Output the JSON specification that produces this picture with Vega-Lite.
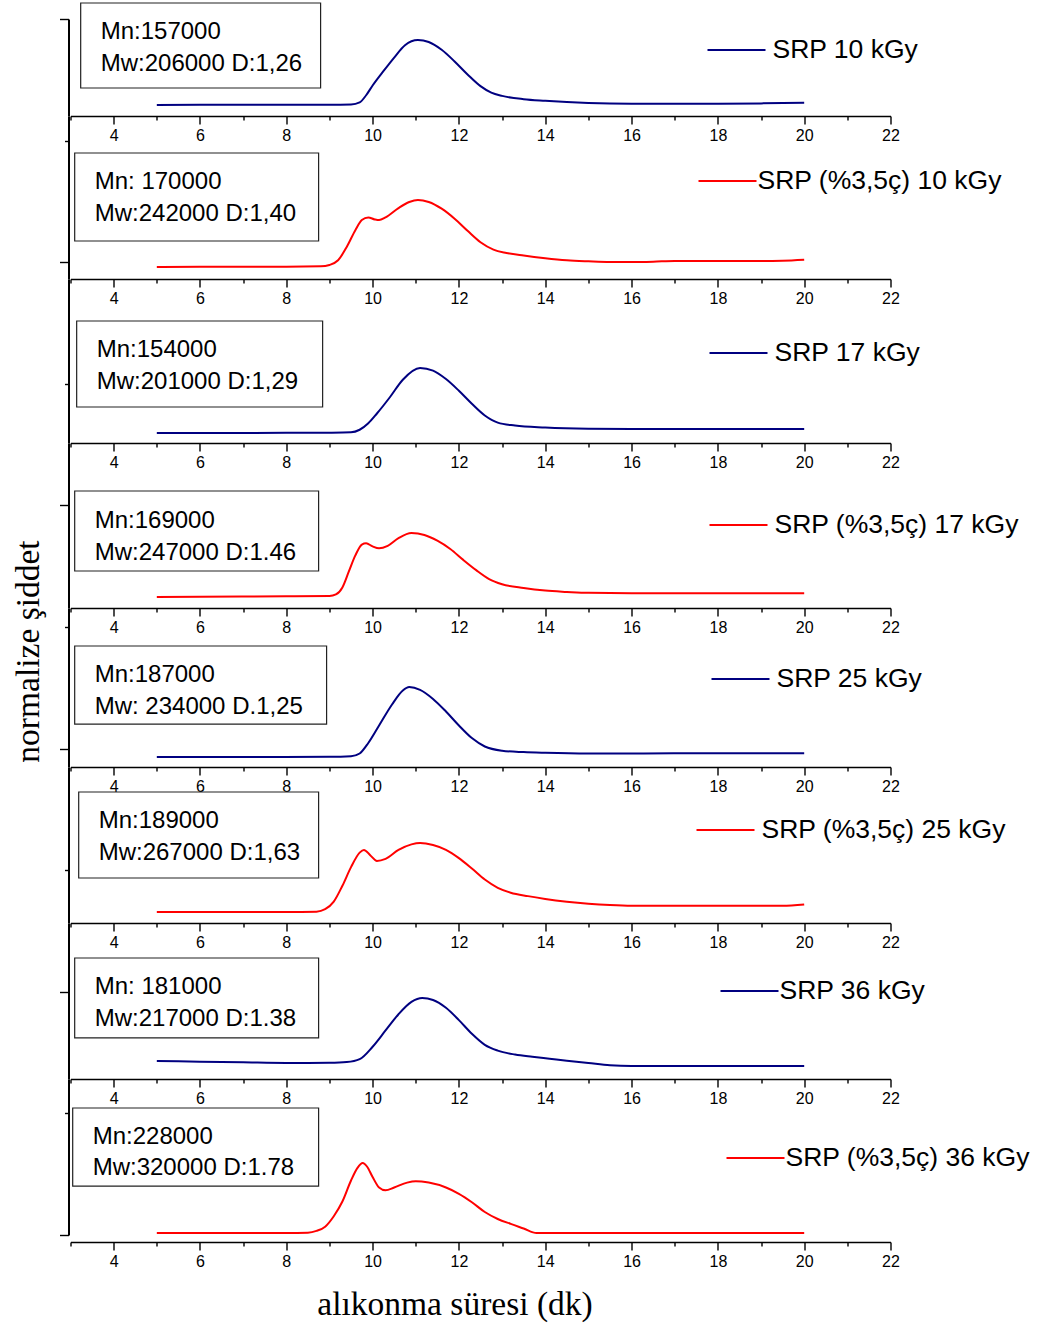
{
  "$schema": "https://vega.github.io/schema/vega-lite/v6.json",
  "padding": {"left": 10.5, "top": 2, "right": 5, "bottom": 5},
  "background": "white",
  "bounds": "flush",
  "spacing": 0,
  "resolve": {"scale": {"color": "independent"}},
  "config": {
    "view": {"stroke": null},
    "axis": {"grid": false, "domainColor": "black", "tickColor": "black", "labelColor": "black", "labelFont": "Liberation Sans"},
    "legend": {"orient": "none", "title": null, "labelFont": "Liberation Sans", "labelFontSize": 26.5, "labelColor": "black", "symbolSize": 3364, "symbolStrokeWidth": 2, "symbolType": "stroke", "padding": 0, "labelLimit": 400}
  },
  "datasets": {
    "panels": [
      {"p": 1, "series": "SRP 10 kGy", "mn": "Mn:157000", "mw": "Mw:206000 D:1,26"},
      {"p": 2, "series": "SRP (%3,5ç) 10 kGy", "mn": "Mn: 170000", "mw": "Mw:242000 D:1,40"},
      {"p": 3, "series": "SRP 17 kGy", "mn": "Mn:154000", "mw": "Mw:201000 D:1,29"},
      {"p": 4, "series": "SRP (%3,5ç) 17 kGy", "mn": "Mn:169000", "mw": "Mw:247000 D:1.46"},
      {"p": 5, "series": "SRP 25 kGy", "mn": "Mn:187000", "mw": "Mw: 234000 D.1,25"},
      {"p": 6, "series": "SRP (%3,5ç) 25 kGy", "mn": "Mn:189000", "mw": "Mw:267000 D:1,63"},
      {"p": 7, "series": "SRP 36 kGy", "mn": "Mn: 181000", "mw": "Mw:217000 D:1.38"},
      {"p": 8, "series": "SRP (%3,5ç) 36 kGy", "mn": "Mn:228000", "mw": "Mw:320000 D:1.78"}
    ],
    "curves": [
      {"p":1,"t":5,"v":0},{"p":1,"t":6,"v":0.003},{"p":1,"t":7,"v":0.005},{"p":1,"t":8,"v":0.003},{"p":1,"t":9,"v":0.003},{"p":1,"t":9.5,"v":0.008},{"p":1,"t":9.7,"v":0.04},{"p":1,"t":9.85,"v":0.15},{"p":1,"t":10,"v":0.3},{"p":1,"t":10.25,"v":0.52},{"p":1,"t":10.5,"v":0.73},{"p":1,"t":10.75,"v":0.92},{"p":1,"t":11.05,"v":1.0},{"p":1,"t":11.3,"v":0.97},{"p":1,"t":11.6,"v":0.85},{"p":1,"t":11.9,"v":0.67},{"p":1,"t":12.2,"v":0.47},{"p":1,"t":12.5,"v":0.29},{"p":1,"t":12.75,"v":0.19},{"p":1,"t":13,"v":0.14},{"p":1,"t":13.5,"v":0.09},{"p":1,"t":14,"v":0.065},{"p":1,"t":14.5,"v":0.045},{"p":1,"t":15,"v":0.03},{"p":1,"t":16,"v":0.018},{"p":1,"t":17,"v":0.018},{"p":1,"t":18,"v":0.02},{"p":1,"t":19,"v":0.025},{"p":1,"t":20,"v":0.035},
      {"p":2,"t":5,"v":0},{"p":2,"t":6,"v":0.002},{"p":2,"t":7,"v":0.005},{"p":2,"t":8,"v":0.005},{"p":2,"t":8.8,"v":0.01},{"p":2,"t":9.0,"v":0.03},{"p":2,"t":9.2,"v":0.1},{"p":2,"t":9.4,"v":0.3},{"p":2,"t":9.6,"v":0.55},{"p":2,"t":9.75,"v":0.7},{"p":2,"t":9.9,"v":0.74},{"p":2,"t":10.05,"v":0.71},{"p":2,"t":10.15,"v":0.7},{"p":2,"t":10.3,"v":0.74},{"p":2,"t":10.6,"v":0.88},{"p":2,"t":10.85,"v":0.97},{"p":2,"t":11.05,"v":1.0},{"p":2,"t":11.3,"v":0.97},{"p":2,"t":11.6,"v":0.87},{"p":2,"t":11.9,"v":0.72},{"p":2,"t":12.2,"v":0.54},{"p":2,"t":12.5,"v":0.37},{"p":2,"t":12.8,"v":0.26},{"p":2,"t":13.1,"v":0.21},{"p":2,"t":13.5,"v":0.17},{"p":2,"t":14,"v":0.13},{"p":2,"t":14.5,"v":0.1},{"p":2,"t":15,"v":0.085},{"p":2,"t":15.5,"v":0.075},{"p":2,"t":16,"v":0.075},{"p":2,"t":16.5,"v":0.08},{"p":2,"t":17,"v":0.09},{"p":2,"t":17.5,"v":0.09},{"p":2,"t":18,"v":0.09},{"p":2,"t":18.5,"v":0.09},{"p":2,"t":19,"v":0.09},{"p":2,"t":19.5,"v":0.095},{"p":2,"t":20,"v":0.11},
      {"p":3,"t":5,"v":0},{"p":3,"t":7,"v":0},{"p":3,"t":8,"v":0.002},{"p":3,"t":9,"v":0.005},{"p":3,"t":9.5,"v":0.01},{"p":3,"t":9.7,"v":0.05},{"p":3,"t":9.9,"v":0.15},{"p":3,"t":10.1,"v":0.3},{"p":3,"t":10.4,"v":0.55},{"p":3,"t":10.7,"v":0.82},{"p":3,"t":11.1,"v":1.0},{"p":3,"t":11.4,"v":0.96},{"p":3,"t":11.7,"v":0.83},{"p":3,"t":12,"v":0.65},{"p":3,"t":12.3,"v":0.45},{"p":3,"t":12.6,"v":0.27},{"p":3,"t":12.9,"v":0.16},{"p":3,"t":13.3,"v":0.115},{"p":3,"t":14,"v":0.085},{"p":3,"t":15,"v":0.065},{"p":3,"t":16,"v":0.06},{"p":3,"t":18,"v":0.06},{"p":3,"t":20,"v":0.06},
      {"p":4,"t":5,"v":0},{"p":4,"t":6,"v":0.005},{"p":4,"t":7,"v":0.008},{"p":4,"t":8,"v":0.01},{"p":4,"t":9,"v":0.015},{"p":4,"t":9.15,"v":0.04},{"p":4,"t":9.3,"v":0.15},{"p":4,"t":9.45,"v":0.4},{"p":4,"t":9.6,"v":0.65},{"p":4,"t":9.75,"v":0.82},{"p":4,"t":9.85,"v":0.84},{"p":4,"t":10.0,"v":0.79},{"p":4,"t":10.15,"v":0.76},{"p":4,"t":10.35,"v":0.8},{"p":4,"t":10.6,"v":0.92},{"p":4,"t":10.9,"v":1.0},{"p":4,"t":11.2,"v":0.97},{"p":4,"t":11.5,"v":0.88},{"p":4,"t":11.8,"v":0.75},{"p":4,"t":12.1,"v":0.58},{"p":4,"t":12.4,"v":0.42},{"p":4,"t":12.7,"v":0.28},{"p":4,"t":13,"v":0.2},{"p":4,"t":13.5,"v":0.14},{"p":4,"t":14,"v":0.1},{"p":4,"t":14.5,"v":0.08},{"p":4,"t":15,"v":0.065},{"p":4,"t":16,"v":0.06},{"p":4,"t":17,"v":0.06},{"p":4,"t":18,"v":0.06},{"p":4,"t":19,"v":0.06},{"p":4,"t":20,"v":0.06},
      {"p":5,"t":5,"v":0},{"p":5,"t":7,"v":0},{"p":5,"t":9,"v":0.002},{"p":5,"t":9.5,"v":0.01},{"p":5,"t":9.7,"v":0.05},{"p":5,"t":9.9,"v":0.2},{"p":5,"t":10.15,"v":0.45},{"p":5,"t":10.45,"v":0.75},{"p":5,"t":10.7,"v":0.95},{"p":5,"t":10.85,"v":1.0},{"p":5,"t":11.1,"v":0.96},{"p":5,"t":11.4,"v":0.83},{"p":5,"t":11.7,"v":0.65},{"p":5,"t":12,"v":0.45},{"p":5,"t":12.3,"v":0.27},{"p":5,"t":12.6,"v":0.15},{"p":5,"t":13,"v":0.09},{"p":5,"t":13.5,"v":0.07},{"p":5,"t":14,"v":0.06},{"p":5,"t":15,"v":0.05},{"p":5,"t":16,"v":0.05},{"p":5,"t":18,"v":0.055},{"p":5,"t":20,"v":0.055},
      {"p":6,"t":5,"v":0},{"p":6,"t":6,"v":0},{"p":6,"t":7,"v":0},{"p":6,"t":8,"v":0},{"p":6,"t":8.7,"v":0.005},{"p":6,"t":8.9,"v":0.04},{"p":6,"t":9.1,"v":0.15},{"p":6,"t":9.3,"v":0.38},{"p":6,"t":9.5,"v":0.65},{"p":6,"t":9.7,"v":0.86},{"p":6,"t":9.8,"v":0.9},{"p":6,"t":9.95,"v":0.82},{"p":6,"t":10.1,"v":0.74},{"p":6,"t":10.3,"v":0.77},{"p":6,"t":10.6,"v":0.9},{"p":6,"t":10.9,"v":0.98},{"p":6,"t":11.1,"v":1.0},{"p":6,"t":11.4,"v":0.97},{"p":6,"t":11.7,"v":0.9},{"p":6,"t":12,"v":0.78},{"p":6,"t":12.3,"v":0.63},{"p":6,"t":12.6,"v":0.47},{"p":6,"t":12.9,"v":0.35},{"p":6,"t":13.2,"v":0.28},{"p":6,"t":13.6,"v":0.23},{"p":6,"t":14,"v":0.19},{"p":6,"t":14.5,"v":0.15},{"p":6,"t":15,"v":0.12},{"p":6,"t":15.5,"v":0.1},{"p":6,"t":16,"v":0.09},{"p":6,"t":17,"v":0.09},{"p":6,"t":18,"v":0.09},{"p":6,"t":19,"v":0.09},{"p":6,"t":19.5,"v":0.09},{"p":6,"t":20,"v":0.11},
      {"p":7,"t":5,"v":0.03},{"p":7,"t":6,"v":0.02},{"p":7,"t":7,"v":0.01},{"p":7,"t":8,"v":0},{"p":7,"t":8.5,"v":0},{"p":7,"t":9,"v":0.003},{"p":7,"t":9.4,"v":0.015},{"p":7,"t":9.7,"v":0.06},{"p":7,"t":10,"v":0.25},{"p":7,"t":10.3,"v":0.5},{"p":7,"t":10.6,"v":0.75},{"p":7,"t":10.9,"v":0.94},{"p":7,"t":11.15,"v":1.0},{"p":7,"t":11.4,"v":0.97},{"p":7,"t":11.7,"v":0.85},{"p":7,"t":12,"v":0.66},{"p":7,"t":12.3,"v":0.45},{"p":7,"t":12.6,"v":0.28},{"p":7,"t":12.9,"v":0.19},{"p":7,"t":13.3,"v":0.13},{"p":7,"t":13.7,"v":0.095},{"p":7,"t":14.1,"v":0.065},{"p":7,"t":14.5,"v":0.035},{"p":7,"t":15,"v":0.0},{"p":7,"t":15.5,"v":-0.035},{"p":7,"t":16,"v":-0.045},{"p":7,"t":18,"v":-0.045},{"p":7,"t":20,"v":-0.045},
      {"p":8,"t":5,"v":0},{"p":8,"t":6,"v":0},{"p":8,"t":7,"v":0},{"p":8,"t":8,"v":0},{"p":8,"t":8.5,"v":0.005},{"p":8,"t":8.7,"v":0.03},{"p":8,"t":8.9,"v":0.09},{"p":8,"t":9.1,"v":0.24},{"p":8,"t":9.3,"v":0.45},{"p":8,"t":9.5,"v":0.75},{"p":8,"t":9.65,"v":0.93},{"p":8,"t":9.77,"v":1.0},{"p":8,"t":9.87,"v":0.95},{"p":8,"t":10,"v":0.8},{"p":8,"t":10.15,"v":0.65},{"p":8,"t":10.3,"v":0.61},{"p":8,"t":10.5,"v":0.65},{"p":8,"t":10.8,"v":0.72},{"p":8,"t":11,"v":0.74},{"p":8,"t":11.3,"v":0.72},{"p":8,"t":11.7,"v":0.65},{"p":8,"t":12,"v":0.56},{"p":8,"t":12.3,"v":0.44},{"p":8,"t":12.6,"v":0.3},{"p":8,"t":12.9,"v":0.2},{"p":8,"t":13.2,"v":0.13},{"p":8,"t":13.5,"v":0.065},{"p":8,"t":13.8,"v":0},{"p":8,"t":14.5,"v":0},{"p":8,"t":16,"v":0},{"p":8,"t":18,"v":0},{"p":8,"t":20,"v":0}
    ]
  },
  "vconcat": [
    {
      "width": 820, "height": 97,
      "layer": [
        {"data": {"name": "panels"}, "transform": [{"filter": "datum.p == 1"}], "mark": {"type": "rect", "fill": "white", "stroke": "#222", "strokeWidth": 1.2}, "encoding": {"x": {"datum": 3.236}, "x2": {"datum": 8.795}, "y": {"datum": 1.569}, "y2": {"datum": 0.2615}}},
        {"data": {"name": "panels"}, "transform": [{"filter": "datum.p == 1"}], "mark": {"type": "text", "align": "left", "baseline": "middle", "font": "Liberation Sans", "fontSize": 24, "color": "black"}, "encoding": {"x": {"datum": 3.70}, "y": {"datum": 1.123}, "text": {"field": "mn"}}},
        {"data": {"name": "panels"}, "transform": [{"filter": "datum.p == 1"}], "mark": {"type": "text", "align": "left", "baseline": "middle", "font": "Liberation Sans", "fontSize": 24, "color": "black"}, "encoding": {"x": {"datum": 3.70}, "y": {"datum": 0.631}, "text": {"field": "mw"}}},
        {"data": {"name": "curves"}, "transform": [{"filter": "datum.p == 1"}, {"lookup": "p", "from": {"data": {"name": "panels"}, "key": "p", "fields": ["series"]}}],
         "mark": {"type": "line", "interpolate": "monotone", "strokeWidth": 2},
         "encoding": {
           "x": {"field": "t", "type": "quantitative", "scale": {"domain": [3, 22], "nice": false, "zero": false}, "axis": {"values": [3,4,5,6,7,8,9,10,11,12,13,14,15,16,17,18,19,20,21,22], "labelExpr": "datum.value % 2 == 0 ? datum.label : ''", "tickSize": {"condition": {"test": "datum.value % 2 == 0", "value": 8}, "value": 4}, "title": null, "labelFontSize": 16, "labelPadding": 3, "domainWidth": 1.6, "tickWidth": 1.4, "labelFlush": false, "labelOverlap": false}},
           "y": {"field": "v", "type": "quantitative", "scale": {"domain": [-0.1692, 1.3231], "nice": false, "zero": false}, "axis": {"values": [1.3231], "labels": false, "title": null, "offset": 2, "domainWidth": 2, "tickWidth": 1.4, "tickSize": 9}},
           "color": {"field": "series", "type": "nominal", "scale": {"range": ["#000080"]}, "legend": {"legendX": 636, "legendY": 1, "labelOffset": 6}}
         }}
      ]
    },
    {
      "width": 820, "height": 163,
      "layer": [
        {"data": {"name": "panels"}, "transform": [{"filter": "datum.p == 2"}], "mark": {"type": "rect", "fill": "white", "stroke": "#222", "strokeWidth": 1.2}, "encoding": {"x": {"datum": 3.097}, "x2": {"datum": 8.749}, "y": {"datum": 1.7015}, "y2": {"datum": 0.388}}},
        {"data": {"name": "panels"}, "transform": [{"filter": "datum.p == 2"}], "mark": {"type": "text", "align": "left", "baseline": "middle", "font": "Liberation Sans", "fontSize": 24, "color": "black"}, "encoding": {"x": {"datum": 3.561}, "y": {"datum": 1.2687}, "text": {"field": "mn"}}},
        {"data": {"name": "panels"}, "transform": [{"filter": "datum.p == 2"}], "mark": {"type": "text", "align": "left", "baseline": "middle", "font": "Liberation Sans", "fontSize": 24, "color": "black"}, "encoding": {"x": {"datum": 3.561}, "y": {"datum": 0.791}, "text": {"field": "mw"}}},
        {"data": {"name": "curves"}, "transform": [{"filter": "datum.p == 2"}, {"lookup": "p", "from": {"data": {"name": "panels"}, "key": "p", "fields": ["series"]}}],
         "mark": {"type": "line", "interpolate": "monotone", "strokeWidth": 2},
         "encoding": {
           "x": {"field": "t", "type": "quantitative", "scale": {"domain": [3, 22], "nice": false, "zero": false}, "axis": {"values": [3,4,5,6,7,8,9,10,11,12,13,14,15,16,17,18,19,20,21,22], "labelExpr": "datum.value % 2 == 0 ? datum.label : ''", "tickSize": {"condition": {"test": "datum.value % 2 == 0", "value": 8}, "value": 4}, "title": null, "labelFontSize": 16, "labelPadding": 3, "domainWidth": 1.6, "tickWidth": 1.4, "labelFlush": false, "labelOverlap": false}},
           "y": {"field": "v", "type": "quantitative", "scale": {"domain": [-0.1791, 2.2537], "nice": false, "zero": false}, "axis": {"values": [1.8866, 0.0716], "labels": false, "title": null, "offset": 2, "domainWidth": 2, "tickWidth": 1.4, "tickSize": {"condition": {"test": "datum.value < 1", "value": 9}, "value": 4}}},
           "color": {"field": "series", "type": "nominal", "scale": {"range": ["#ff0000"]}, "legend": {"legendX": 627, "legendY": 35, "labelOffset": 0}}
         }}
      ]
    },
    {
      "width": 820, "height": 164,
      "layer": [
        {"data": {"name": "panels"}, "transform": [{"filter": "datum.p == 3"}], "mark": {"type": "rect", "fill": "white", "stroke": "#222", "strokeWidth": 1.2}, "encoding": {"x": {"datum": 3.143}, "x2": {"datum": 8.842}, "y": {"datum": 1.723}, "y2": {"datum": 0.4}}},
        {"data": {"name": "panels"}, "transform": [{"filter": "datum.p == 3"}], "mark": {"type": "text", "align": "left", "baseline": "middle", "font": "Liberation Sans", "fontSize": 24, "color": "black"}, "encoding": {"x": {"datum": 3.607}, "y": {"datum": 1.277}, "text": {"field": "mn"}}},
        {"data": {"name": "panels"}, "transform": [{"filter": "datum.p == 3"}], "mark": {"type": "text", "align": "left", "baseline": "middle", "font": "Liberation Sans", "fontSize": 24, "color": "black"}, "encoding": {"x": {"datum": 3.607}, "y": {"datum": 0.785}, "text": {"field": "mw"}}},
        {"data": {"name": "curves"}, "transform": [{"filter": "datum.p == 3"}, {"lookup": "p", "from": {"data": {"name": "panels"}, "key": "p", "fields": ["series"]}}],
         "mark": {"type": "line", "interpolate": "monotone", "strokeWidth": 2},
         "encoding": {
           "x": {"field": "t", "type": "quantitative", "scale": {"domain": [3, 22], "nice": false, "zero": false}, "axis": {"values": [3,4,5,6,7,8,9,10,11,12,13,14,15,16,17,18,19,20,21,22], "labelExpr": "datum.value % 2 == 0 ? datum.label : ''", "tickSize": {"condition": {"test": "datum.value % 2 == 0", "value": 8}, "value": 4}, "title": null, "labelFontSize": 16, "labelPadding": 3, "domainWidth": 1.6, "tickWidth": 1.4, "labelFlush": false, "labelOverlap": false}},
           "y": {"field": "v", "type": "quantitative", "scale": {"domain": [-0.1538, 2.3692], "nice": false, "zero": false}, "axis": {"values": [0.757], "labels": false, "title": null, "offset": 2, "domainWidth": 2, "tickWidth": 1.4, "tickSize": 4}},
           "color": {"field": "series", "type": "nominal", "scale": {"range": ["#000080"]}, "legend": {"legendX": 638, "legendY": 44, "labelOffset": 6}}
         }}
      ]
    },
    {
      "width": 820, "height": 165,
      "layer": [
        {"data": {"name": "panels"}, "transform": [{"filter": "datum.p == 4"}], "mark": {"type": "rect", "fill": "white", "stroke": "#222", "strokeWidth": 1.2}, "encoding": {"x": {"datum": 3.097}, "x2": {"datum": 8.749}, "y": {"datum": 1.656}, "y2": {"datum": 0.406}}},
        {"data": {"name": "panels"}, "transform": [{"filter": "datum.p == 4"}], "mark": {"type": "text", "align": "left", "baseline": "middle", "font": "Liberation Sans", "fontSize": 24, "color": "black"}, "encoding": {"x": {"datum": 3.561}, "y": {"datum": 1.1875}, "text": {"field": "mn"}}},
        {"data": {"name": "panels"}, "transform": [{"filter": "datum.p == 4"}], "mark": {"type": "text", "align": "left", "baseline": "middle", "font": "Liberation Sans", "fontSize": 24, "color": "black"}, "encoding": {"x": {"datum": 3.561}, "y": {"datum": 0.6875}, "text": {"field": "mw"}}},
        {"data": {"name": "curves"}, "transform": [{"filter": "datum.p == 4"}, {"lookup": "p", "from": {"data": {"name": "panels"}, "key": "p", "fields": ["series"]}}],
         "mark": {"type": "line", "interpolate": "monotone", "strokeWidth": 2},
         "encoding": {
           "x": {"field": "t", "type": "quantitative", "scale": {"domain": [3, 22], "nice": false, "zero": false}, "axis": {"values": [3,4,5,6,7,8,9,10,11,12,13,14,15,16,17,18,19,20,21,22], "labelExpr": "datum.value % 2 == 0 ? datum.label : ''", "tickSize": {"condition": {"test": "datum.value % 2 == 0", "value": 8}, "value": 4}, "title": null, "labelFontSize": 16, "labelPadding": 3, "domainWidth": 1.6, "tickWidth": 1.4, "labelFlush": false, "labelOverlap": false}},
           "y": {"field": "v", "type": "quantitative", "scale": {"domain": [-0.1719, 2.4062], "nice": false, "zero": false}, "axis": {"values": [1.431], "labels": false, "title": null, "offset": 2, "domainWidth": 2, "tickWidth": 1.4, "tickSize": 9}},
           "color": {"field": "series", "type": "nominal", "scale": {"range": ["#ff0000"]}, "legend": {"legendX": 638, "legendY": 52, "labelOffset": 6}}
         }}
      ]
    },
    {
      "width": 820, "height": 159,
      "layer": [
        {"data": {"name": "panels"}, "transform": [{"filter": "datum.p == 5"}], "mark": {"type": "rect", "fill": "white", "stroke": "#222", "strokeWidth": 1.2}, "encoding": {"x": {"datum": 3.097}, "x2": {"datum": 8.934}, "y": {"datum": 1.586}, "y2": {"datum": 0.471}}},
        {"data": {"name": "panels"}, "transform": [{"filter": "datum.p == 5"}], "mark": {"type": "text", "align": "left", "baseline": "middle", "font": "Liberation Sans", "fontSize": 24, "color": "black"}, "encoding": {"x": {"datum": 3.561}, "y": {"datum": 1.171}, "text": {"field": "mn"}}},
        {"data": {"name": "panels"}, "transform": [{"filter": "datum.p == 5"}], "mark": {"type": "text", "align": "left", "baseline": "middle", "font": "Liberation Sans", "fontSize": 24, "color": "black"}, "encoding": {"x": {"datum": 3.561}, "y": {"datum": 0.714}, "text": {"field": "mw"}}},
        {"data": {"name": "curves"}, "transform": [{"filter": "datum.p == 5"}, {"lookup": "p", "from": {"data": {"name": "panels"}, "key": "p", "fields": ["series"]}}],
         "mark": {"type": "line", "interpolate": "monotone", "strokeWidth": 2},
         "encoding": {
           "x": {"field": "t", "type": "quantitative", "scale": {"domain": [3, 22], "nice": false, "zero": false}, "axis": {"values": [3,4,5,6,7,8,9,10,11,12,13,14,15,16,17,18,19,20,21,22], "labelExpr": "datum.value % 2 == 0 ? datum.label : ''", "tickSize": {"condition": {"test": "datum.value % 2 == 0", "value": 8}, "value": 4}, "title": null, "labelFontSize": 16, "labelPadding": 3, "domainWidth": 1.6, "tickWidth": 1.4, "labelFlush": false, "labelOverlap": false}},
           "y": {"field": "v", "type": "quantitative", "scale": {"domain": [-0.1429, 2.1286], "nice": false, "zero": false}, "axis": {"values": [1.857, 0.12], "labels": false, "offset": 2, "domainWidth": 2, "tickWidth": 1.4, "tickSize": {"condition": {"test": "datum.value < 1", "value": 9}, "value": 4}, "title": "normalize şiddet", "titleFont": "Liberation Serif", "titleFontSize": 33.5, "titleFontWeight": "normal", "titleColor": "black", "titleAngle": 270, "titleBaseline": "alphabetic", "titleAlign": "center", "titleX": -30, "titleY": 43}},
           "color": {"field": "series", "type": "nominal", "scale": {"range": ["#000080"]}, "legend": {"legendX": 640, "legendY": 41, "labelOffset": 6}}
         }}
      ]
    },
    {
      "width": 820, "height": 156,
      "layer": [
        {"data": {"name": "panels"}, "transform": [{"filter": "datum.p == 6"}], "mark": {"type": "rect", "fill": "white", "stroke": "#222", "strokeWidth": 1.2}, "encoding": {"x": {"datum": 3.19}, "x2": {"datum": 8.749}, "y": {"datum": 1.739}, "y2": {"datum": 0.493}}},
        {"data": {"name": "panels"}, "transform": [{"filter": "datum.p == 6"}], "mark": {"type": "text", "align": "left", "baseline": "middle", "font": "Liberation Sans", "fontSize": 24, "color": "black"}, "encoding": {"x": {"datum": 3.653}, "y": {"datum": 1.319}, "text": {"field": "mn"}}},
        {"data": {"name": "panels"}, "transform": [{"filter": "datum.p == 6"}], "mark": {"type": "text", "align": "left", "baseline": "middle", "font": "Liberation Sans", "fontSize": 24, "color": "black"}, "encoding": {"x": {"datum": 3.653}, "y": {"datum": 0.855}, "text": {"field": "mw"}}},
        {"data": {"name": "curves"}, "transform": [{"filter": "datum.p == 6"}, {"lookup": "p", "from": {"data": {"name": "panels"}, "key": "p", "fields": ["series"]}}],
         "mark": {"type": "line", "interpolate": "monotone", "strokeWidth": 2},
         "encoding": {
           "x": {"field": "t", "type": "quantitative", "scale": {"domain": [3, 22], "nice": false, "zero": false}, "axis": {"values": [3,4,5,6,7,8,9,10,11,12,13,14,15,16,17,18,19,20,21,22], "labelExpr": "datum.value % 2 == 0 ? datum.label : ''", "tickSize": {"condition": {"test": "datum.value % 2 == 0", "value": 8}, "value": 4}, "title": null, "labelFontSize": 16, "labelPadding": 3, "domainWidth": 1.6, "tickWidth": 1.4, "labelFlush": false, "labelOverlap": false}},
           "y": {"field": "v", "type": "quantitative", "scale": {"domain": [-0.1594, 2.1015], "nice": false, "zero": false}, "axis": {"values": [0.6058], "labels": false, "title": null, "offset": 2, "domainWidth": 2, "tickWidth": 1.4, "tickSize": 4}},
           "color": {"field": "series", "type": "nominal", "scale": {"range": ["#ff0000"]}, "legend": {"legendX": 625, "legendY": 33, "labelOffset": 6}}
         }}
      ]
    },
    {
      "width": 820, "height": 156,
      "layer": [
        {"data": {"name": "panels"}, "transform": [{"filter": "datum.p == 7"}], "mark": {"type": "rect", "fill": "white", "stroke": "#222", "strokeWidth": 1.2}, "encoding": {"x": {"datum": 3.097}, "x2": {"datum": 8.749}, "y": {"datum": 1.615}, "y2": {"datum": 0.385}}},
        {"data": {"name": "panels"}, "transform": [{"filter": "datum.p == 7"}], "mark": {"type": "text", "align": "left", "baseline": "middle", "font": "Liberation Sans", "fontSize": 24, "color": "black"}, "encoding": {"x": {"datum": 3.561}, "y": {"datum": 1.169}, "text": {"field": "mn"}}},
        {"data": {"name": "panels"}, "transform": [{"filter": "datum.p == 7"}], "mark": {"type": "text", "align": "left", "baseline": "middle", "font": "Liberation Sans", "fontSize": 24, "color": "black"}, "encoding": {"x": {"datum": 3.561}, "y": {"datum": 0.677}, "text": {"field": "mw"}}},
        {"data": {"name": "curves"}, "transform": [{"filter": "datum.p == 7"}, {"lookup": "p", "from": {"data": {"name": "panels"}, "key": "p", "fields": ["series"]}}],
         "mark": {"type": "line", "interpolate": "monotone", "strokeWidth": 2},
         "encoding": {
           "x": {"field": "t", "type": "quantitative", "scale": {"domain": [3, 22], "nice": false, "zero": false}, "axis": {"values": [3,4,5,6,7,8,9,10,11,12,13,14,15,16,17,18,19,20,21,22], "labelExpr": "datum.value % 2 == 0 ? datum.label : ''", "tickSize": {"condition": {"test": "datum.value % 2 == 0", "value": 8}, "value": 4}, "title": null, "labelFontSize": 16, "labelPadding": 3, "domainWidth": 1.6, "tickWidth": 1.4, "labelFlush": false, "labelOverlap": false}},
           "y": {"field": "v", "type": "quantitative", "scale": {"domain": [-0.2462, 2.1538], "nice": false, "zero": false}, "axis": {"values": [1.0954], "labels": false, "title": null, "offset": 2, "domainWidth": 2, "tickWidth": 1.4, "tickSize": 9}},
           "color": {"field": "series", "type": "nominal", "scale": {"range": ["#000080"]}, "legend": {"legendX": 649, "legendY": 38, "labelOffset": 0}}
         }}
      ]
    },
    {
      "width": 820, "height": 156,
      "layer": [
        {"data": {"name": "panels"}, "transform": [{"filter": "datum.p == 8"}], "mark": {"type": "rect", "fill": "white", "stroke": "#222", "strokeWidth": 1.2}, "encoding": {"x": {"datum": 3.051}, "x2": {"datum": 8.749}, "y": {"datum": 1.786}, "y2": {"datum": 0.671}}},
        {"data": {"name": "panels"}, "transform": [{"filter": "datum.p == 8"}], "mark": {"type": "text", "align": "left", "baseline": "middle", "font": "Liberation Sans", "fontSize": 24, "color": "black"}, "encoding": {"x": {"datum": 3.514}, "y": {"datum": 1.371}, "text": {"field": "mn"}}},
        {"data": {"name": "panels"}, "transform": [{"filter": "datum.p == 8"}], "mark": {"type": "text", "align": "left", "baseline": "middle", "font": "Liberation Sans", "fontSize": 24, "color": "black"}, "encoding": {"x": {"datum": 3.514}, "y": {"datum": 0.929}, "text": {"field": "mw"}}},
        {"data": {"name": "curves"}, "transform": [{"filter": "datum.p == 8"}, {"lookup": "p", "from": {"data": {"name": "panels"}, "key": "p", "fields": ["series"]}}],
         "mark": {"type": "line", "interpolate": "monotone", "strokeWidth": 2},
         "encoding": {
           "x": {"field": "t", "type": "quantitative", "scale": {"domain": [3, 22], "nice": false, "zero": false}, "axis": {"values": [3,4,5,6,7,8,9,10,11,12,13,14,15,16,17,18,19,20,21,22], "labelExpr": "datum.value % 2 == 0 ? datum.label : ''", "tickSize": {"condition": {"test": "datum.value % 2 == 0", "value": 8}, "value": 4}, "labelFontSize": 16, "labelPadding": 3, "domainWidth": 1.6, "tickWidth": 1.4, "labelFlush": false, "labelOverlap": false, "offset": 7, "title": "alıkonma süresi (dk)", "titleFont": "Liberation Serif", "titleFontSize": 33.5, "titleFontWeight": "normal", "titleColor": "black", "titleBaseline": "alphabetic", "titleAlign": "center", "titleX": 384, "titleY": 72}},
           "y": {"field": "v", "type": "quantitative", "scale": {"domain": [-0.0286, 2.2], "nice": false, "zero": false}, "axis": {"values": [1.7086, -0.0286], "labels": false, "title": null, "offset": 2, "domainWidth": 2, "tickWidth": 1.4, "tickSize": {"condition": {"test": "datum.value < 1", "value": 9}, "value": 4}}},
           "color": {"field": "series", "type": "nominal", "scale": {"range": ["#ff0000"]}, "legend": {"legendX": 655, "legendY": 49, "labelOffset": 0}}
         }}
      ]
    }
  ]
}
